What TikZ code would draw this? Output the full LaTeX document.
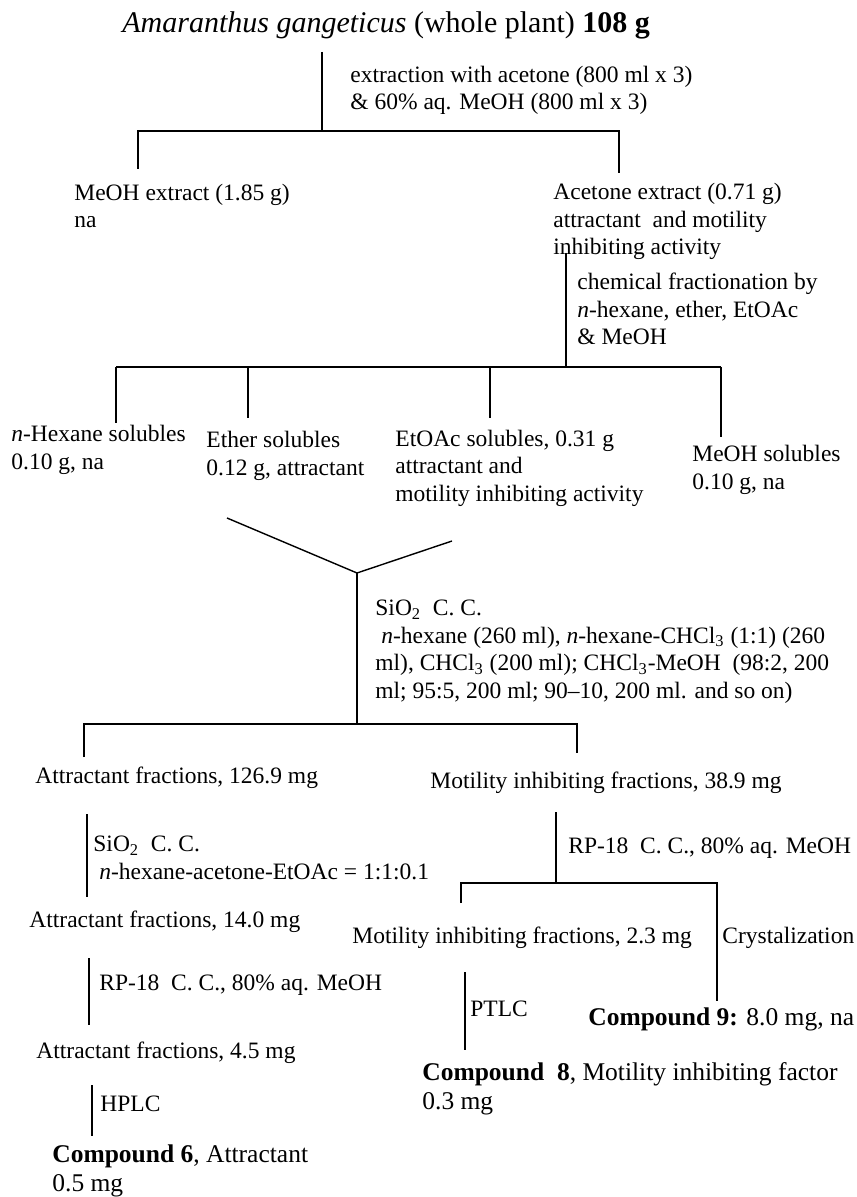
\documentclass[tikz,border=0pt]{standalone}
\usepackage{fontspec}
\setmainfont{Liberation Serif}
\usetikzlibrary{positioning}

\begin{document}
\begin{tikzpicture}[x=0.5pt,y=-0.5pt,
  txt/.style={anchor=base west,inner sep=0pt,align=left,font=\fontsize{11.75}{13.75}\selectfont},
  cpd/.style={txt,font=\fontsize{12.75}{14.5}\selectfont},
  ln/.style={line width=0.7pt},
  bar/.style={line width=0.9pt}]
  \useasboundingbox (0,0) rectangle (856,1197);

  % plant material (multi-line nodes sit on their last line)
  \node[txt,font=\fontsize{15}{18}\selectfont] (plant) at (122,33) {\textit{Amaranthus gangeticus} (whole plant) \textbf{108 g}};
  \node[txt] (extr) at (350,110) {extraction with acetone (800 ml x 3)\\\& 60\% aq. MeOH (800 ml x 3)};

  % crude extracts
  \node[txt] (meoh) at (74,228) {MeOH extract (1.85 g)\\na};
  \node[txt] (acet) at (553,255) {Acetone extract (0.71 g)\\attractant\ \ and motility\\inhibiting activity};
  \node[txt] (chem) at (577,345) {chemical fractionation by\\\textit{n}-hexane, ether, EtOAc\\\& MeOH};

  % solubles
  \node[txt] (hex) at (11,469) {\textit{n}-Hexane solubles\\0.10 g, na};
  \node[txt] (eth) at (206,475) {Ether solubles\\0.12 g, attractant};
  \node[txt] (etoac) at (395,501) {EtOAc solubles, 0.31 g\\attractant and\\motility inhibiting activity};
  \node[txt] (meohs) at (692,489) {MeOH solubles\\0.10 g, na};
  \node[txt] (sio) at (375,698) {SiO\textsubscript{2}\ \ C. C.\\\hspace*{0.25em}\textit{n}-hexane (260 ml), \textit{n}-hexane-CHCl\textsubscript{3} (1:1) (260\\ml), CHCl\textsubscript{3} (200 ml); CHCl\textsubscript{3}-MeOH\ \ (98:2, 200\\ml; 95:5, 200 ml; 90–10, 200 ml. and so on)};

  % attractant branch
  \node[txt] (attr1) at (35,783) {Attractant fractions, 126.9 mg};
  \node[txt] (sioa) at (93,879) {SiO\textsubscript{2}\ \ C. C.\\\hspace*{0.25em}\textit{n}-hexane-acetone-EtOAc = 1:1:0.1};
  \node[txt] (attr2) at (29,927) {Attractant fractions, 14.0 mg};
  \node[txt] (rpa) at (99,990) {RP-18\ \ C. C., 80\% aq. MeOH};
  \node[txt] (attr3) at (36,1058) {Attractant fractions, 4.5 mg};
  \node[txt] (hplc) at (100,1111) {HPLC};
  \node[cpd] (cpd6) at (52,1191) {\textbf{Compound 6}, Attractant\\0.5 mg};

  % motility branch
  \node[txt] (moti1) at (430,788) {Motility inhibiting fractions, 38.9 mg};
  \node[txt] (rpb) at (568,853) {RP-18\ \ C. C., 80\% aq. MeOH};
  \node[txt] (moti2) at (352,943) {Motility inhibiting fractions, 2.3 mg};
  \node[txt] (cryst) at (722,943) {Crystalization};
  \node[txt] (ptlc) at (470,1016) {PTLC};
  \node[cpd] (cpd9) at (588,1025) {\textbf{Compound 9:} 8.0 mg, na};
  \node[cpd] (cpd8) at (422,1109) {\textbf{Compound\ \ 8}, Motility inhibiting factor\\0.3 mg};

  % extraction split
  \coordinate (s1t) at (322,52);
  \coordinate (s1) at (322,131);
  \coordinate (s1l) at (138,131);
  \coordinate (s1r) at (619,131);
  \coordinate (s1le) at (138,169);
  \coordinate (s1re) at (619,173);
  \draw[ln] (s1t) -- (s1);
  \draw[bar] (s1le) -- (s1l) -- (s1r) -- (s1re);

  % fractionation split
  \coordinate (s2t) at (566,253);
  \coordinate (s2) at (566,367);
  \coordinate (s2a) at (116,367);
  \coordinate (s2b) at (248,367);
  \coordinate (s2c) at (490,367);
  \coordinate (s2d) at (721,367);
  \coordinate (s2ae) at (116,423);
  \coordinate (s2be) at (248,418);
  \coordinate (s2ce) at (490,418);
  \coordinate (s2de) at (721,437);
  \draw[ln] (s2t) -- (s2);
  \draw[bar] (s2a) -- (s2d);
  \foreach \k in {a,b,c,d}
    \draw[ln] (s2\k) -- (s2\k e);

  % combined fractions
  \coordinate (vl) at (227,518);
  \coordinate (v) at (357,573);
  \coordinate (vr) at (452,541);
  \coordinate (s3) at (357,724);
  \coordinate (s3l) at (84,724);
  \coordinate (s3r) at (577,724);
  \coordinate (s3le) at (84,757);
  \coordinate (s3re) at (577,753);
  \draw[ln] (vl) -- (v) -- (vr);
  \draw[ln] (v) -- (s3);
  \draw[bar] (s3le) -- (s3l) -- (s3r) -- (s3re);

  % attractant steps
  \coordinate (a1t) at (87,814);
  \coordinate (a1b) at (87,897);
  \coordinate (a2t) at (89,958);
  \coordinate (a2b) at (89,1025);
  \coordinate (a3t) at (92,1085);
  \coordinate (a3b) at (92,1136);
  \foreach \k in {1,2,3}
    \draw[ln] (a\k t) -- (a\k b);

  % motility steps
  \coordinate (m1t) at (556,812);
  \coordinate (m1) at (556,883);
  \coordinate (m1l) at (461,883);
  \coordinate (m1r) at (717,883);
  \coordinate (m1le) at (461,903);
  \coordinate (m1re) at (717,1001);
  \coordinate (m2t) at (465,972);
  \coordinate (m2b) at (465,1050);
  \draw[ln] (m1t) -- (m1);
  \draw[bar] (m1le) -- (m1l) -- (m1r) -- (m1re);
  \draw[ln] (m2t) -- (m2b);

\end{tikzpicture}
\end{document}
